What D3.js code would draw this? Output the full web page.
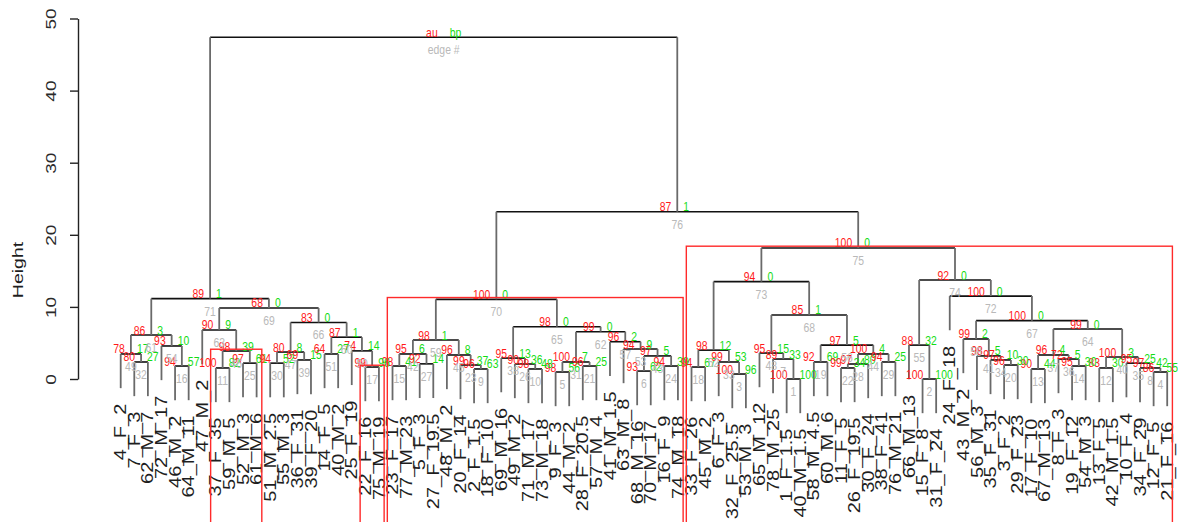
<!DOCTYPE html>
<html>
<head>
<meta charset="utf-8">
<script src="https://cdn.jsdelivr.net/npm/d3@7"></script>
<style>
  body { margin: 0; background: #fff; }
  svg { display: block; font-family: "Liberation Sans", Arial, sans-serif; }
</style>
</head>
<body>
<svg id="chart" width="1178" height="522"></svg>
<script>
// Leaves in dendrogram order (left to right)
const leafLabels = [
  "4_F_2","7_F_3","62_M_7","72_M_17","46_M_2","64_M_11","47_M_2","37_F_35","59_M_5","52_M_3",
  "61_M_6","51_M_2.5","55_M_3","36_F_31","39_F_20","14_F_5","40_M_2","25_F_19","22_F_16","75_M_19",
  "23_F_17","77_M_23","5_F_3","27_F_19.5","48_M_2","20_F_14","2_F_1.5","18_F_10","69_M_16","49_M_2",
  "71_M_17","73_M_18","9_F_3","44_M_2","28_F_20.5","57_M_4","41_M_1.5","63_M_8","68_M_16","70_M_17",
  "16_F_9","74_M_18","33_F_26","45_M_2","6_F_3","32_F_25.5","53_M_3","65_M_12","78_M_25","1_F_1.5",
  "40_M_1.5","58_M_4.5","60_M_6","11_F_5","26_F_19.5","30_F_24","38_F_41","76_M_21","66_M_13","15_F_8",
  "31_F_24","24_F_18","43_M_2","56_M_3","35_F_31","3_F_2","29_F_23","17_F_10","67_M_13","8_F_3",
  "19_F_12","54_M_3","13_F_5","42_M_1.5","10_F_4","34_F_29","12_F_5","21_F_16"
];

// hclust-style merge table: negative = leaf position (1-based), positive = earlier merge row.
// Row number is the edge number shown in grey.
const mergeLeft = [
  -50,-60,-46,-77,-33,-39,-49,-76,-27,-31,
  -8,-73,-68,-71,-21,-5,-19,-43,-52,-66,
  -35,-54,-26,-41,-10,-30,-23,22,-57,-12,
  5,-2,-45,-65,-75,-70,13,-29,-14,12,
  -64,15,6,28,-25,11,30,-48,-1,-18,
  -16,18,-38,-4,-59,19,-37,-63,42,51,
  49,31,-7,37,38,47,58,48,63,59,
  61,-62,52,55,73,70,71
];
const mergeRight = [
  -51,-61,-47,-78,-34,-40,1,4,-28,-32,
  -9,-74,-69,-72,-22,-6,-20,-44,-53,-67,
  -36,-55,9,-42,-11,10,-24,-56,-58,-13,
  21,-3,3,20,8,14,36,26,-15,35,
  34,27,24,29,23,25,39,7,32,17,
  -17,33,43,16,2,44,53,41,45,50,
  54,57,46,40,62,60,64,56,66,65,
  69,67,68,72,74,75,76
];
const mergeHeight = [
  0.0,0.0,0.69,0.97,0.97,1.1,2.77,1.53,1.39,1.39,
  1.53,1.53,1.39,1.8,1.8,1.8,1.66,1.66,2.36,1.94,
  1.8,1.53,1.94,1.8,2.2,2.08,2.1,2.08,2.36,2.2,
  2.36,2.36,2.36,2.64,2.2,2.77,3.33,2.9,2.64,3.05,
  3.2,3.47,3.2,3.47,3.33,3.88,3.74,3.6,3.47,3.9,
  3.47,4.0,4.16,4.58,4.7,4.7,5.17,5.55,5.4,5.8,
  6.1,6.56,6.8,6.93,7.25,7.84,8.09,8.88,9.85,11.05,
  11.15,11.5,13.5,13.73,18.17,23.2,47.4
];
// Approximately unbiased p-values (%) and bootstrap probabilities (%)
const auValues = [
  100,100,100,86,98,93,89,97,96,98,
  100,83,90,95,98,94,99,94,92,96,
  96,99,99,94,97,90,92,97,94,94,
  100,80,99,97,95,72,96,95,69,100,
  98,95,97,100,96,98,80,95,78,74,
  64,98,94,93,88,97,96,99,98,87,
  86,99,90,99,98,83,100,85,68,100,
  89,100,94,92,100,87,null
];
const bpValues = [
  100,100,96,55,56,62,33,42,63,48,
  82,30,44,30,41,57,96,67,69,30,
  25,34,37,39,61,36,14,80,25,52,
  7,27,53,10,25,5,4,13,15,3,
  5,6,5,4,8,39,8,15,17,14,
  27,12,9,10,32,5,2,2,1,1,
  3,0,9,0,0,0,0,1,0,0,
  1,0,0,0,0,1,null
];
const yTicks = [0, 10, 20, 30, 40, 50];
const rootLegend = ["au", "bp", "edge #"];

const colAU = "#ff1a1a", colBP = "#14dc14", colEdge = "#b9b9b9";
const SX = 0.8;           // horizontal squeeze applied to all glyphs
const alpha = 95;         // significance level for cluster boxes

const svg = d3.select("#chart");
const nLeaf = leafLabels.length;
const nMerge = mergeHeight.length;

const x = d3.scalePoint().domain(d3.range(nLeaf)).range([120.7, 1167.2]);
const y = d3.scaleLinear().domain([0, 50]).range([379, 18.5]);
const hang = 0.1 * d3.max(mergeHeight);

// node x positions and leaf membership
const nodeX = new Array(nMerge);
const members = new Array(nMerge);
function refX(r) { return r < 0 ? x(-r - 1) : nodeX[r - 1]; }
function refMembers(r) { return r < 0 ? [-r - 1] : members[r - 1]; }
for (let k = 0; k < nMerge; k++) {
  nodeX[k] = (refX(mergeLeft[k]) + refX(mergeRight[k])) / 2;
  members[k] = refMembers(mergeLeft[k]).concat(refMembers(mergeRight[k]));
}

const gTree = svg.append("g");
const gText = svg.append("g");
const gLeaf = svg.append("g");
const gRect = svg.append("g");

const leafBottom = new Array(nLeaf);

for (let k = 0; k < nMerge; k++) {
  const yk = y(mergeHeight[k]);
  const xl = refX(mergeLeft[k]), xr = refX(mergeRight[k]);
  gTree.append("line")
    .attr("x1", xl).attr("x2", xr).attr("y1", yk).attr("y2", yk)
    .attr("stroke", "#111").attr("stroke-width", 1.6);
  [mergeLeft[k], mergeRight[k]].forEach(c => {
    let yEnd;
    if (c < 0) {
      yEnd = y(mergeHeight[k] - hang);
      leafBottom[-c - 1] = yEnd;
    } else {
      yEnd = y(mergeHeight[c - 1]);
    }
    gTree.append("line")
      .attr("x1", refX(c)).attr("x2", refX(c)).attr("y1", yk).attr("y2", yEnd)
      .attr("stroke", "#6a6a6a").attr("stroke-width", 1.8);
  });
}

function hText(g, px, py, txt, anchor, color, size) {
  g.append("text")
    .attr("transform", `translate(${px},${py}) scale(${SX},1)`)
    .attr("text-anchor", anchor)
    .attr("fill", color)
    .attr("font-size", size)
    .text(txt);
}

// au / bp / edge labels
for (let k = 0; k < nMerge; k++) {
  const xk = nodeX[k], yk = y(mergeHeight[k]);
  const isRoot = k === nMerge - 1;
  const au = isRoot ? rootLegend[0] : auValues[k];
  const bp = isRoot ? rootLegend[1] : bpValues[k];
  const ed = isRoot ? rootLegend[2] : String(k + 1);
  hText(gText, xk - 6, yk - 0.5, au, "end", colAU, 13);
  hText(gText, xk + 6, yk - 0.5, bp, "start", colBP, 13);
  hText(gText, xk, yk + 17, ed, "middle", colEdge, 13);
}

// leaf labels, rotated, hanging below each leaf
leafLabels.forEach((lab, i) => {
  gLeaf.append("text")
    .attr("transform", `translate(${x(i)},${leafBottom[i] + 15.5}) scale(${SX},1) rotate(-90)`)
    .attr("text-anchor", "end")
    .attr("dy", "0.35em")
    .attr("fill", "#1e1e1e")
    .attr("font-size", 20)
    .text(lab);
});

// y axis
const axis = svg.append("g")
  .attr("transform", "translate(78,0)")
  .call(d3.axisLeft(y).tickValues(yTicks).tickSize(8).tickSizeOuter(0).tickFormat(d3.format("d")));
axis.select(".domain").attr("stroke", "#222").attr("stroke-width", 1.4);
axis.selectAll(".tick line").attr("stroke", "#222").attr("stroke-width", 1.4);
axis.selectAll(".tick text")
  .attr("x", null).attr("dy", null)
  .attr("transform", `translate(-22,0) scale(0.74,1) rotate(-90)`)
  .attr("text-anchor", "middle")
  .attr("font-size", 19)
  .attr("font-family", "Liberation Sans, Arial, sans-serif")
  .attr("fill", "#2a2a2a");

svg.append("text")
  .attr("transform", `translate(22.5,270) scale(0.72,1) rotate(-90)`)
  .attr("text-anchor", "middle")
  .attr("font-size", 19.5)
  .attr("fill", "#1e1e1e")
  .text("Height");

// boxes around clusters with au >= alpha, largest first, non-overlapping
const covered = new Set();
const mx = 5.2;
for (let k = nMerge - 2; k >= 0; k--) {
  if (auValues[k] >= alpha) {
    const mem = members[k];
    if (!mem.some(m => covered.has(m))) {
      const xl = x(d3.min(mem)) - mx, xr = x(d3.max(mem)) + mx;
      gRect.append("rect")
        .attr("x", xl).attr("y", y(mergeHeight[k]) - 1.8)
        .attr("width", xr - xl).attr("height", 560)
        .attr("fill", "none").attr("stroke", "#ff2a2a").attr("stroke-width", 1.4);
    }
    mem.forEach(m => covered.add(m));
  }
}
</script>
</body>
</html>
